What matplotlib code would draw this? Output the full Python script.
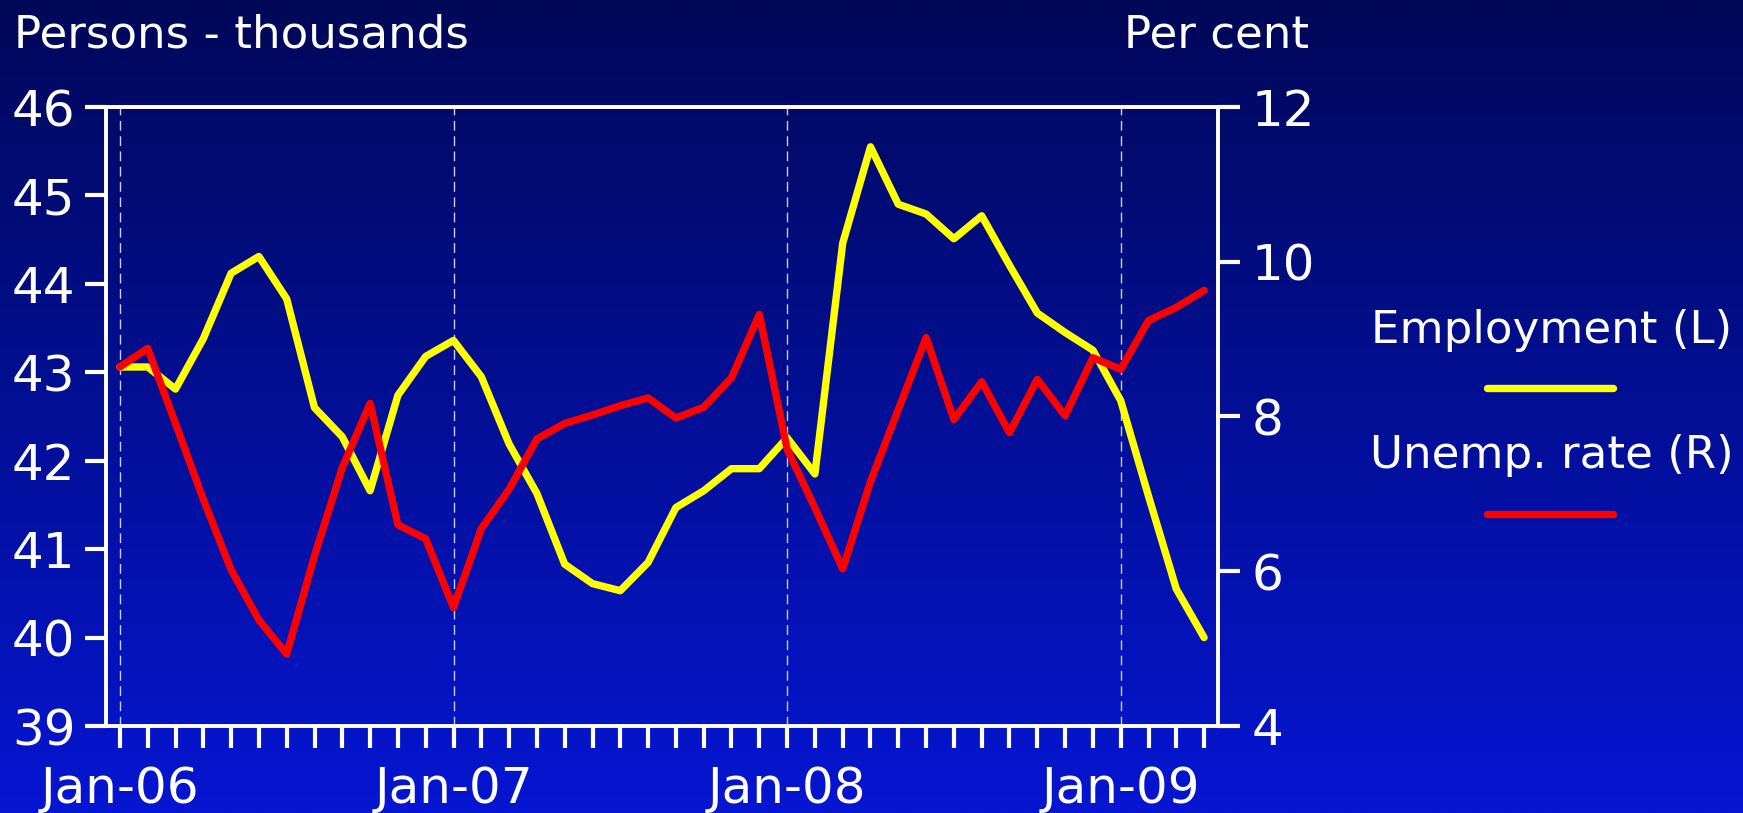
import numpy as np
import pandas as pd
import matplotlib
matplotlib.use("Agg")
import matplotlib.pyplot as plt
from matplotlib.lines import Line2D

# Monthly data, Jan-06 .. Apr-09
months = pd.date_range("2006-01-01", periods=40, freq="MS")
employment = [43.06, 43.06, 42.81, 43.38, 44.12, 44.31, 43.83, 42.60, 42.27, 41.66,
              42.74, 43.18, 43.36, 42.95, 42.19, 41.63, 40.83, 40.61, 40.53, 40.85,
              41.47, 41.66, 41.91, 41.91, 42.26, 41.85, 44.46, 45.55, 44.90, 44.79,
              44.51, 44.77, 44.21, 43.67, 43.45, 43.25, 42.68, 41.60, 40.55, 40.00]
unemp_rate = [8.64, 8.88, 7.91, 6.93, 6.02, 5.37, 4.93, 6.20, 7.34, 8.17,
              6.60, 6.42, 5.53, 6.55, 7.06, 7.71, 7.91, 8.02, 8.14, 8.24,
              7.98, 8.12, 8.50, 9.32, 7.58, 6.82, 6.03, 7.16, 8.09, 9.02,
              7.96, 8.45, 7.79, 8.48, 8.01, 8.76, 8.61, 9.24, 9.41, 9.63]

left_ticks = [39, 40, 41, 42, 43, 44, 45, 46]
right_ticks = [4, 6, 8, 10, 12]
series_labels = ["Employment (L)", "Unemp. rate (R)"]

W, H = 1743, 813
WHITE = "white"
YELLOW = "#FFFF00"
RED = "#FF0000"
LW = 5.3

fig = plt.figure(figsize=(W / 100, H / 100), dpi=100)

# gradient background, dark navy at the top to bright blue at the bottom
bg = fig.add_axes([0, 0, 1, 1], zorder=-10)
top_c = np.array([0, 8, 88]) / 255
bot_c = np.array([6, 22, 210]) / 255
t = np.linspace(0, 1, 256)[:, None]
grad = (top_c[None, :] * (1 - t) + bot_c[None, :] * t)[:, None, :]
bg.imshow(grad, aspect="auto", extent=[0, 1, 0, 1], interpolation="bilinear")
bg.axis("off")

x = np.arange(len(months))
ax = fig.add_axes([106 / W, 1 - 726 / H, (1218 - 106) / W, (726 - 107) / H])
ax.patch.set_alpha(0)
ax2 = ax.twinx()
ax2.patch.set_alpha(0)

ax.plot(x, employment, color=YELLOW, lw=LW, solid_capstyle="round", solid_joinstyle="round", zorder=3)
ax2.plot(x, unemp_rate, color=RED, lw=LW, solid_capstyle="round", solid_joinstyle="round", zorder=3)

# dashed year separators
for i, d in enumerate(months):
    if d.month == 1:
        ax.axvline(i, color="#C8CCEE", lw=1.0, dashes=(7, 4), zorder=1)

ax.set_xlim(-0.5, len(months) - 0.5)
ax.set_ylim(left_ticks[0], left_ticks[-1])
ax2.set_ylim(right_ticks[0], right_ticks[-1])

ax.set_xticks(x)
ax.set_xticklabels([d.strftime("%b-%y") if d.month == 1 else "" for d in months])
ax.set_yticks(left_ticks)
ax2.set_yticks(right_ticks)

for a in (ax, ax2):
    for s in a.spines.values():
        s.set_color(WHITE)
        s.set_linewidth(2.6)

ax.tick_params(axis="x", direction="out", length=16, width=3.0, colors=WHITE,
               labelsize=36, pad=12)
ax.tick_params(axis="y", direction="out", length=15, width=3.0, colors=WHITE,
               labelsize=36, pad=7)
ax2.tick_params(axis="y", direction="out", length=16, width=3.0, colors=WHITE,
                labelsize=36, pad=8)

fig.text(14 / W, 1 - 47 / H, "Persons - thousands", color=WHITE, fontsize=32.5,
         ha="left", va="baseline")
fig.text(1309 / W, 1 - 47 / H, "Per cent", color=WHITE, fontsize=32.5,
         ha="right", va="baseline")

# legend: label above a short line sample
legend_cx = 1552
for label, color, text_base, line_y in [(series_labels[0], YELLOW, 343, 388),
                                        (series_labels[1], RED, 468, 514)]:
    fig.text(legend_cx / W, 1 - text_base / H, label, color=WHITE, fontsize=32.5,
             ha="center", va="baseline")
    fig.add_artist(Line2D([1487 / W, 1613 / W], [1 - line_y / H, 1 - line_y / H],
                          color=color, lw=LW, solid_capstyle="round"))

fig.savefig("out.png", dpi=100)
